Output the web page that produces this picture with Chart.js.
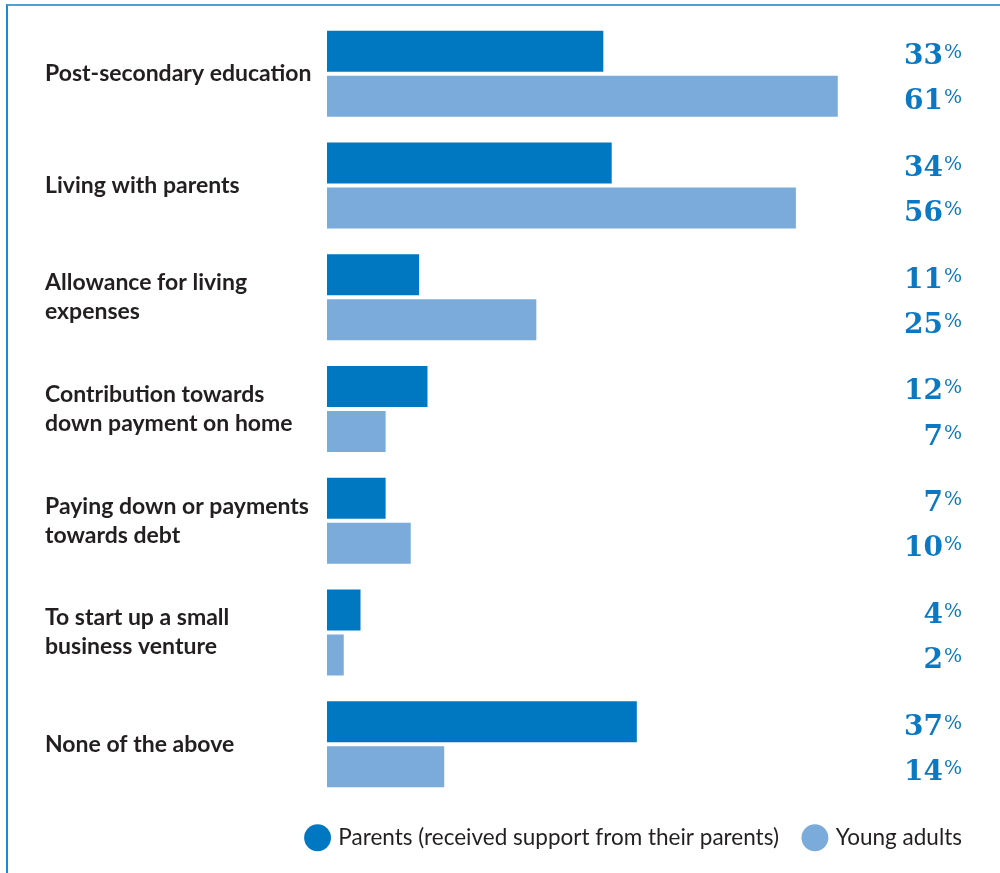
<!DOCTYPE html>
<html>
<head>
<meta charset="utf-8">
<script src="https://cdn.jsdelivr.net/npm/chart.js@4"></script>
<style>
  html, body { margin: 0; padding: 0; background: #fff; }
  #wrap { position: relative; width: 1000px; height: 873px; overflow: hidden; }
  #frame { position: absolute; left: 6px; top: 4px; width: 1100px; height: 1000px;
           border-top: 2px solid #4d9fd6; border-left: 2px solid #1a8ad6; }
  #chart { position: absolute; left: 0; top: 0; }
</style>
</head>
<body>
<div id="wrap">
  <div id="frame"></div>
  <canvas id="chart" width="1000" height="873"></canvas>
</div>
<script>
(function () {
    "use strict";

    // Data
    var categories = [
        "Post-secondary education",
        "Living with parents",
        ["Allowance for living", "expenses"],
        ["Contribution towards", "down payment on home"],
        ["Paying down or payments", "towards debt"],
        ["To start up a small", "business venture"],
        "None of the above"
    ];
    var seriesNames = ["Parents (received support from their parents)", "Young adults"];
    var parentsValues = [33, 34, 11, 12, 7, 4, 37];
    var youngAdultsValues = [61, 56, 25, 7, 10, 2, 14];

    var darkBlue = "#0078c1";
    var lightBlue = "#7babdb";
    var textColor = "#231f20";

    // Value labels at the right side
    var valueLabels = {
        id: "valueLabels",
        afterDatasetsDraw: function (chart) {
            var ctx = chart.ctx;
            var numX = 943;
            ctx.save();
            ctx.fillStyle = "#0a78c2";
            chart.data.datasets.forEach(function (ds, i) {
                chart.getDatasetMeta(i).data.forEach(function (bar, j) {
                    var base = bar.y + 13;
                    ctx.font = "bold 28px 'DejaVu Serif'";
                    ctx.textAlign = "right";
                    ctx.textBaseline = "alphabetic";
                    ctx.fillText(String(ds.data[j]), numX, base);
                    ctx.font = "19px 'DejaVu Serif'";
                    ctx.textAlign = "left";
                    ctx.fillText("%", numX + 1, base - 6);
                });
            });
            ctx.restore();
        }
    };

    new Chart(document.getElementById("chart").getContext("2d"), {
        type: "bar",
        data: {
            labels: categories,
            datasets: [{
                label: seriesNames[0],
                data: parentsValues,
                backgroundColor: darkBlue,
                categoryPercentage: 0.806,
                barPercentage: 0.911
            }, {
                label: seriesNames[1],
                data: youngAdultsValues,
                backgroundColor: lightBlue,
                categoryPercentage: 0.806,
                barPercentage: 0.911
            }]
        },
        options: {
            indexAxis: "y",
            responsive: false,
            animation: false,
            layout: { padding: { left: 45, right: 11.5, top: 18, bottom: 14 } },
            scales: {
                x: { display: false, min: 0, max: 79 },
                y: {
                    grid: { display: false },
                    border: { display: false },
                    afterFit: function (scale) { scale.width = 282; },
                    ticks: {
                        crossAlign: "far",
                        padding: 0,
                        color: textColor,
                        font: { family: "Lato", size: 23, weight: "bold", lineHeight: 1.26 }
                    }
                }
            },
            plugins: {
                tooltip: { enabled: false },
                legend: {
                    position: "bottom",
                    align: "end",
                    labels: {
                        usePointStyle: true,
                        pointStyle: "circle",
                        boxWidth: 19,
                        boxHeight: 19,
                        padding: 26.5,
                        color: textColor,
                        font: { family: "Lato", size: 22.5 }
                    }
                }
            }
        },
        plugins: [valueLabels]
    });
})();
</script>
</body>
</html>
